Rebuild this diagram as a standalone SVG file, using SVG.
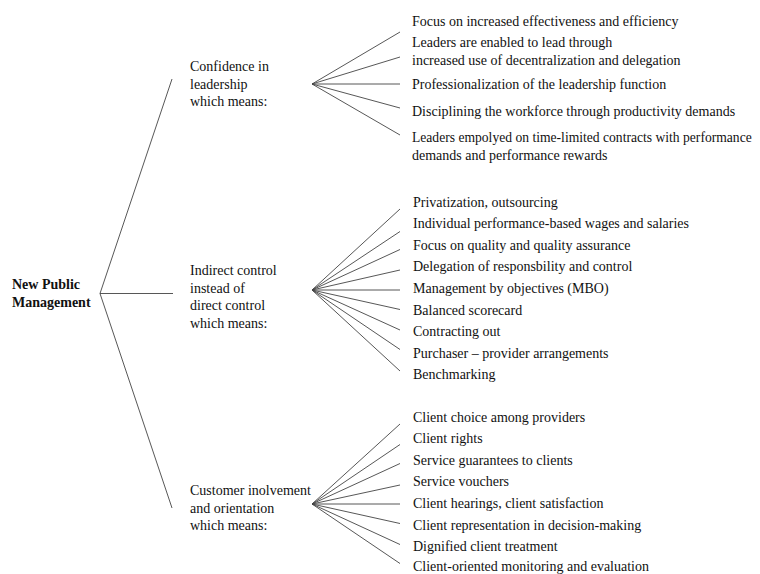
<svg xmlns="http://www.w3.org/2000/svg" width="760" height="574" viewBox="0 0 760 574">
<style>
text{font-family:"Liberation Serif","Times New Roman",serif;font-size:14px;fill:#111}
.b{font-weight:bold}
.s{font-size:13.6px}
.c line{stroke:#444;stroke-width:0.9}
</style>
<rect width="760" height="574" fill="#fff"/>
<g id="connectors" class="c">
<line x1="100" y1="293.5" x2="172" y2="79"/>
<line x1="100" y1="293.5" x2="173" y2="293.5"/>
<line x1="100" y1="293.5" x2="172" y2="508"/>
<line x1="312" y1="84" x2="400" y2="32"/>
<line x1="312" y1="84" x2="400" y2="57"/>
<line x1="312" y1="84" x2="400" y2="84"/>
<line x1="312" y1="84" x2="400" y2="108"/>
<line x1="312" y1="84" x2="400" y2="135"/>
<line x1="312" y1="290" x2="400" y2="209"/>
<line x1="312" y1="290" x2="400" y2="231.5"/>
<line x1="312" y1="290" x2="400" y2="249.5"/>
<line x1="312" y1="290" x2="400" y2="270"/>
<line x1="312" y1="290" x2="400" y2="290"/>
<line x1="312" y1="290" x2="400" y2="309.5"/>
<line x1="312" y1="290" x2="400" y2="330"/>
<line x1="312" y1="290" x2="400" y2="349.5"/>
<line x1="312" y1="290" x2="400" y2="371"/>
<line x1="312" y1="504" x2="400" y2="424"/>
<line x1="312" y1="504" x2="400" y2="444.5"/>
<line x1="312" y1="504" x2="400" y2="463.5"/>
<line x1="312" y1="504" x2="400" y2="485"/>
<line x1="312" y1="504" x2="400" y2="504"/>
<line x1="312" y1="504" x2="400" y2="523.5"/>
<line x1="312" y1="504" x2="400" y2="544.5"/>
<line x1="312" y1="504" x2="400" y2="563.5"/>
</g>
<g id="root">
<text class="b" x="12" y="289">New Public</text>
<text class="b" x="12" y="307">Management</text>
</g>
<g id="group-leadership">
<text x="190" y="71">Confidence in</text>
<text x="190" y="88.5">leadership</text>
<text x="190" y="106">which means:</text>
</g>
<g id="group-indirect">
<text x="190" y="275">Indirect control</text>
<text x="190" y="292.5">instead of</text>
<text x="190" y="310">direct control</text>
<text x="190" y="327.5">which means:</text>
</g>
<g id="group-customer">
<text x="190" y="495">Customer inolvement</text>
<text x="190" y="512.5">and orientation</text>
<text x="190" y="530">which means:</text>
</g>
<g id="items-leadership">
<text x="412" y="25.5">Focus on increased effectiveness and efficiency</text>
<text x="412" y="47">Leaders are enabled to lead through</text>
<text x="412" y="64.5">increased use of decentralization and delegation</text>
<text x="412" y="89">Professionalization of the leadership function</text>
<text x="412" y="116">Disciplining the workforce through productivity demands</text>
<text class="s" x="412" y="142">Leaders empolyed on time-limited contracts with performance</text>
<text x="412" y="159.5">demands and performance rewards</text>
</g>
<g id="items-indirect">
<text x="413" y="206.5">Privatization, outsourcing</text>
<text x="413" y="228.1">Individual performance-based wages and salaries</text>
<text x="413" y="249.7">Focus on quality and quality assurance</text>
<text x="413" y="271.3">Delegation of responsbility and control</text>
<text x="413" y="292.9">Management by objectives (MBO)</text>
<text x="413" y="314.5">Balanced scorecard</text>
<text x="413" y="336.1">Contracting out</text>
<text x="413" y="357.7">Purchaser – provider arrangements</text>
<text x="413" y="379.3">Benchmarking</text>
</g>
<g id="items-customer">
<text x="413" y="421.5">Client choice among providers</text>
<text x="413" y="443.1">Client rights</text>
<text x="413" y="464.7">Service guarantees to clients</text>
<text x="413" y="486.3">Service vouchers</text>
<text x="413" y="507.9">Client hearings, client satisfaction</text>
<text x="413" y="529.5">Client representation in decision-making</text>
<text x="413" y="551.1">Dignified client treatment</text>
<text x="413" y="570.5">Client-oriented monitoring and evaluation</text>
</g>
</svg>
